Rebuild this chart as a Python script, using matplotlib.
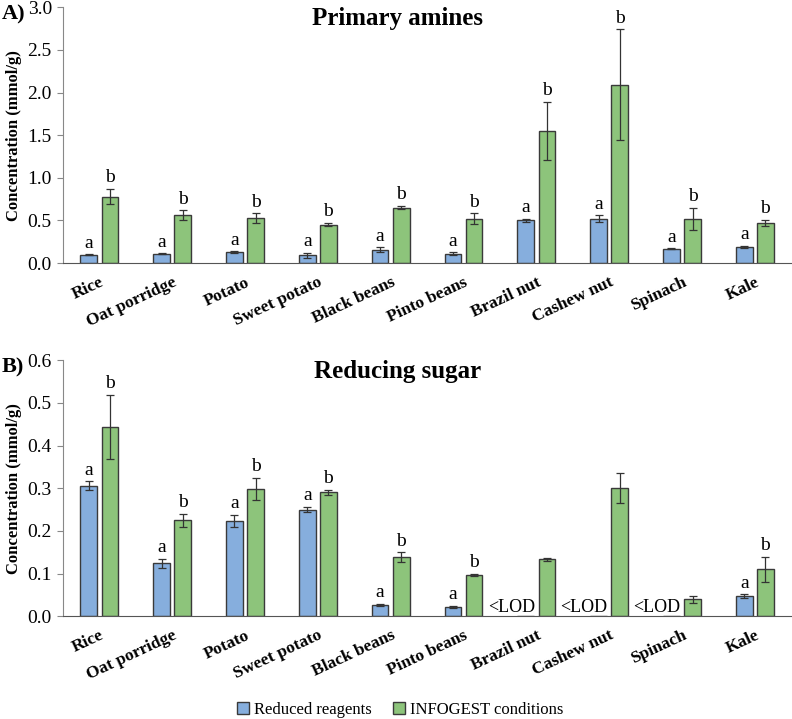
import numpy as np
import matplotlib
matplotlib.use("Agg")
import matplotlib.pyplot as plt
from matplotlib.patches import Patch

plt.rcParams["font.family"] = ["Liberation Serif", "DejaVu Serif"]

foods = ["Rice", "Oat porridge", "Potato", "Sweet potato", "Black beans",
         "Pinto beans", "Brazil nut", "Cashew nut", "Spinach", "Kale"]

# Primary amines (mmol/g)
amine_reduced = [0.10, 0.11, 0.13, 0.09, 0.16, 0.11, 0.50, 0.52, 0.17, 0.19]
amine_reduced_err = [0.005, 0.005, 0.008, 0.03, 0.025, 0.015, 0.02, 0.04, 0.005, 0.015]
amine_infogest = [0.78, 0.56, 0.53, 0.45, 0.65, 0.52, 1.55, 2.09, 0.52, 0.47]
amine_infogest_err = [0.09, 0.06, 0.055, 0.02, 0.02, 0.065, 0.34, 0.65, 0.13, 0.04]
amine_letters_reduced = ["a"] * 10
amine_letters_infogest = ["b"] * 10

# Reducing sugar (mmol/g), None = below LOD
sugar_reduced = [0.306, 0.124, 0.223, 0.250, 0.026, 0.022, None, None, None, 0.047]
sugar_reduced_err = [0.01, 0.01, 0.015, 0.006, 0.003, 0.002, 0, 0, 0, 0.004]
sugar_infogest = [0.444, 0.225, 0.299, 0.290, 0.138, 0.097, 0.133, 0.300, 0.040, 0.110]
sugar_infogest_err = [0.075, 0.015, 0.026, 0.006, 0.012, 0.002, 0.004, 0.035, 0.008, 0.029]
sugar_letters_reduced = ["a", "a", "a", "a", "a", "a", "", "", "", "a"]
sugar_letters_infogest = ["b", "b", "b", "b", "b", "b", "", "", "", "b"]

blue = "#86AEDD"
green = "#8DC47B"
edge = "#3a3a3a"
width = 0.23
off = 0.145


def draw_panel(ax, reduced, reduced_err, infogest, infogest_err,
               let_r, let_i, ymax, step, title, panel, pad):
    x = np.arange(len(foods))
    r_vals = [v if v is not None else 0 for v in reduced]
    ax.bar(x - off, r_vals, width, color=blue, edgecolor=edge, linewidth=1.0)
    ax.bar(x + off, infogest, width, color=green, edgecolor=edge, linewidth=1.0)
    ekw = dict(fmt="none", ecolor="#333333", elinewidth=0.9, capsize=3, capthick=0.9)
    for i, v in enumerate(reduced):
        if v is not None:
            ax.errorbar(x[i] - off, v, yerr=reduced_err[i], **ekw)
            ax.text(x[i] - off, v + reduced_err[i] + pad, let_r[i],
                    ha="center", va="bottom", fontsize=14)
        else:
            ax.text(x[i] - off - 0.2, 0.0, "<LOD", ha="center", va="bottom",
                    fontsize=13)
    ax.errorbar(x + off, infogest, yerr=infogest_err, **ekw)
    for i, v in enumerate(infogest):
        if let_i[i]:
            ax.text(x[i] + off, v + infogest_err[i] + pad, let_i[i],
                    ha="center", va="bottom", fontsize=14)
    ticks = np.arange(0, ymax + step / 2, step)
    ax.set_xlim(-0.5, len(foods) - 0.5)
    ax.set_ylim(0, ymax)
    ax.set_yticks(ticks)
    ax.set_yticklabels([f"{t:.1f}" for t in ticks], fontsize=14)
    ax.set_xticks(x)
    ax.set_xticklabels(foods, rotation=25, ha="right", rotation_mode="anchor",
                       fontsize=12.5, fontweight="bold")
    ax.tick_params(axis="x", length=0, pad=8)
    ax.tick_params(axis="y", length=4, color="#888888", pad=4)
    for s in ["top", "right"]:
        ax.spines[s].set_visible(False)
    ax.spines["left"].set_color("#888888")
    ax.spines["bottom"].set_color("#555555")
    ax.set_ylabel("Concentration (mmol/g)", fontsize=12, fontweight="bold",
                  labelpad=4)
    ax.text(0.46, 0.955, title, transform=ax.transAxes, fontsize=18,
            fontweight="bold", ha="center", va="center")
    ax.text(-0.084, 0.972, panel, transform=ax.transAxes, fontsize=16,
            fontweight="bold", va="center", ha="left")


fig = plt.figure(figsize=(7.92, 7.19), dpi=100)
ax1 = fig.add_axes([0.0795, 0.634, 0.9195, 0.356])
ax2 = fig.add_axes([0.0795, 0.143, 0.9195, 0.356])

draw_panel(ax1, amine_reduced, amine_reduced_err, amine_infogest,
           amine_infogest_err, amine_letters_reduced, amine_letters_infogest,
           3.0, 0.5, "Primary amines", "A)", 0.03)
draw_panel(ax2, sugar_reduced, sugar_reduced_err, sugar_infogest,
           sugar_infogest_err, sugar_letters_reduced, sugar_letters_infogest,
           0.6, 0.1, "Reducing sugar", "B)", 0.006)

handles = [Patch(facecolor=blue, edgecolor=edge, label="Reduced reagents"),
           Patch(facecolor=green, edgecolor=edge, label="INFOGEST conditions")]
fig.legend(handles=handles, loc="center", bbox_to_anchor=(0.505, 0.013), ncol=2,
           frameon=False, fontsize=12, handlelength=0.7, handleheight=0.7,
           handletextpad=0.3, columnspacing=1.3)

fig.savefig("out.png", dpi=100)
